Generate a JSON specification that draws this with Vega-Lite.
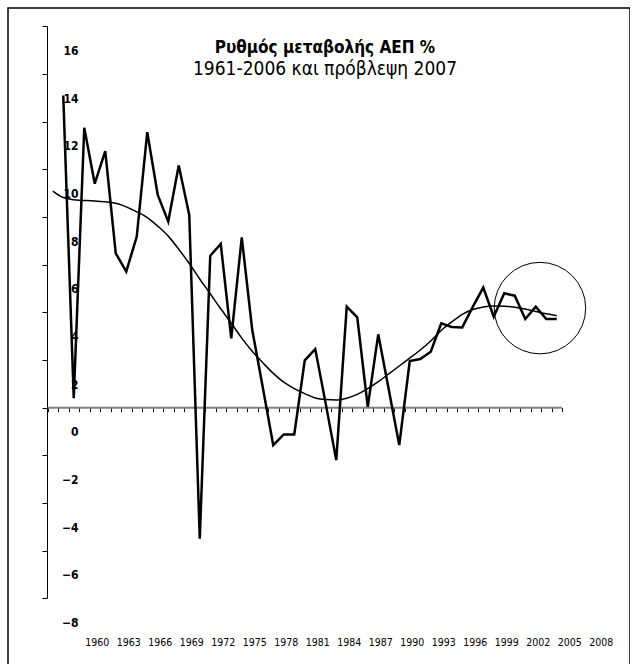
{
  "$schema": "https://vega.github.io/schema/vega-lite/v6.json",
  "width": 622,
  "height": 662,
  "autosize": {"type": "none"},
  "padding": {"left": 8, "top": 8, "right": 0, "bottom": 0},
  "background": "white",
  "config": {
    "view": {"stroke": "black", "strokeWidth": 1.5},
    "font": "Liberation Sans Narrow, DejaVu Sans Condensed, Liberation Sans, sans-serif",
    "axis": {"grid": false}
  },
  "title": {
    "text": "Ρυθμός μεταβολής ΑΕΠ %",
    "subtitle": "1961-2006 και πρόβλεψη 2007",
    "anchor": "middle",
    "offset": -72,
    "dx": 6,
    "font": "Liberation Sans Narrow, DejaVu Sans Condensed, Liberation Sans, sans-serif",
    "fontSize": 17,
    "fontWeight": "bold",
    "color": "black",
    "subtitleFont": "Liberation Sans Narrow, DejaVu Sans Condensed, Liberation Sans, sans-serif",
    "subtitleFontSize": 19,
    "subtitleColor": "black",
    "subtitlePadding": 3
  },
  "datasets": {
    "gdp": [
      {"year": 1960, "value": 13.1},
      {"year": 1961, "value": 0.4},
      {"year": 1962, "value": 11.75},
      {"year": 1963, "value": 9.4},
      {"year": 1964, "value": 10.77},
      {"year": 1965, "value": 6.48},
      {"year": 1966, "value": 5.71},
      {"year": 1967, "value": 7.18},
      {"year": 1968, "value": 11.56},
      {"year": 1969, "value": 8.93},
      {"year": 1970, "value": 7.81},
      {"year": 1971, "value": 10.16},
      {"year": 1972, "value": 8.09},
      {"year": 1973, "value": -5.5},
      {"year": 1974, "value": 6.38},
      {"year": 1975, "value": 6.87},
      {"year": 1976, "value": 2.91},
      {"year": 1977, "value": 7.15},
      {"year": 1978, "value": 3.26},
      {"year": 1979, "value": 0.86},
      {"year": 1980, "value": -1.57},
      {"year": 1981, "value": -1.12},
      {"year": 1982, "value": -1.12},
      {"year": 1983, "value": 1.99},
      {"year": 1984, "value": 2.46},
      {"year": 1985, "value": 0.16},
      {"year": 1986, "value": -2.2},
      {"year": 1987, "value": 4.24},
      {"year": 1988, "value": 3.79},
      {"year": 1989, "value": 0.04},
      {"year": 1990, "value": 3.08},
      {"year": 1991, "value": 0.76},
      {"year": 1992, "value": -1.57},
      {"year": 1993, "value": 1.96},
      {"year": 1994, "value": 2.04},
      {"year": 1995, "value": 2.35},
      {"year": 1996, "value": 3.54},
      {"year": 1997, "value": 3.39},
      {"year": 1998, "value": 3.37},
      {"year": 1999, "value": 4.23},
      {"year": 2000, "value": 5.04},
      {"year": 2001, "value": 3.82},
      {"year": 2002, "value": 4.8},
      {"year": 2003, "value": 4.7},
      {"year": 2004, "value": 3.72},
      {"year": 2005, "value": 4.24},
      {"year": 2006, "value": 3.72},
      {"year": 2007, "value": 3.72}
    ],
    "trend": [
      {"year": 1959, "value": 9.09},
      {"year": 1960, "value": 8.82},
      {"year": 1961, "value": 8.73},
      {"year": 1963, "value": 8.67},
      {"year": 1965, "value": 8.58},
      {"year": 1967, "value": 8.22},
      {"year": 1968, "value": 7.98},
      {"year": 1969, "value": 7.62},
      {"year": 1970, "value": 7.2},
      {"year": 1971, "value": 6.65},
      {"year": 1972, "value": 6.05},
      {"year": 1973, "value": 5.4},
      {"year": 1974, "value": 4.78},
      {"year": 1975, "value": 4.15},
      {"year": 1976, "value": 3.55},
      {"year": 1977, "value": 2.92},
      {"year": 1978, "value": 2.37},
      {"year": 1979, "value": 1.89},
      {"year": 1980, "value": 1.44},
      {"year": 1981, "value": 1.07},
      {"year": 1982, "value": 0.8},
      {"year": 1983, "value": 0.59},
      {"year": 1984, "value": 0.41},
      {"year": 1985, "value": 0.34},
      {"year": 1986, "value": 0.32},
      {"year": 1987, "value": 0.4},
      {"year": 1988, "value": 0.56},
      {"year": 1989, "value": 0.8},
      {"year": 1990, "value": 1.09},
      {"year": 1991, "value": 1.42},
      {"year": 1992, "value": 1.75},
      {"year": 1993, "value": 2.08},
      {"year": 1994, "value": 2.42},
      {"year": 1995, "value": 2.8},
      {"year": 1996, "value": 3.24},
      {"year": 1997, "value": 3.6},
      {"year": 1998, "value": 3.92},
      {"year": 1999, "value": 4.12},
      {"year": 2000, "value": 4.23},
      {"year": 2001, "value": 4.27},
      {"year": 2002, "value": 4.26},
      {"year": 2003, "value": 4.22},
      {"year": 2004, "value": 4.14},
      {"year": 2005, "value": 4.04},
      {"year": 2006, "value": 3.94},
      {"year": 2007, "value": 3.86}
    ]
  },
  "layer": [
    {
      "data": {"values": [{}]},
      "mark": {"type": "rule", "color": "black", "strokeWidth": 1},
      "encoding": {
        "x": {"datum": 1958.5, "type": "quantitative", "title": null, "scale": {"domain": [1954.738, 2013.976], "nice": false, "zero": false}, "axis": null},
        "y": {"datum": -8, "type": "quantitative", "title": null, "scale": {"domain": [-11.007, 16.773], "nice": false, "zero": false}},
        "y2": {"datum": 16}
      }
    },
    {
      "data": {"values": [{}]},
      "mark": {"type": "rule", "color": "#808080", "strokeWidth": 2},
      "encoding": {
        "x": {"datum": 1958.5, "type": "quantitative", "title": null, "scale": {"domain": [1954.738, 2013.976], "nice": false, "zero": false}, "axis": null},
        "x2": {"datum": 2007.5},
        "y": {"datum": 0, "type": "quantitative", "title": null, "scale": {"domain": [-11.007, 16.773], "nice": false, "zero": false}}
      }
    },
    {
      "data": {"name": "gdp"},
      "mark": {"type": "line", "color": "black", "strokeWidth": 2.5, "strokeJoin": "miter"},
      "encoding": {
        "x": {
          "field": "year", "type": "quantitative", "title": null,
          "scale": {"domain": [1954.738, 2013.976], "nice": false, "zero": false},
          "axis": {
            "orient": "bottom", "offset": -262.3,
            "values": [1958.5, 1959.5, 1960.5, 1961.5, 1962.5, 1963.5, 1964.5, 1965.5, 1966.5, 1967.5, 1968.5, 1969.5, 1970.5, 1971.5, 1972.5, 1973.5, 1974.5, 1975.5, 1976.5, 1977.5, 1978.5, 1979.5, 1980.5, 1981.5, 1982.5, 1983.5, 1984.5, 1985.5, 1986.5, 1987.5, 1988.5, 1989.5, 1990.5, 1991.5, 1992.5, 1993.5, 1994.5, 1995.5, 1996.5, 1997.5, 1998.5, 1999.5, 2000.5, 2001.5, 2002.5, 2003.5, 2004.5, 2005.5, 2006.5, 2007.5],
            "domain": false, "labels": false, "ticks": true, "tickSize": 4, "tickColor": "black", "tickWidth": 1, "grid": false, "title": null
          }
        },
        "y": {
          "field": "value", "type": "quantitative", "title": null,
          "scale": {"domain": [-11.007, 16.773], "nice": false, "zero": false},
          "axis": {
            "orient": "left", "offset": -39,
            "values": [-8, -6, -4, -2, 0, 2, 4, 6, 8, 10, 12, 14, 16],
            "domain": false, "tickSize": 5, "tickColor": "black", "tickWidth": 1,
            "labelAlign": "right", "labelBaseline": "middle", "labelPadding": -36, "labelOffset": 24,
            "labelFont": "Liberation Sans Narrow, DejaVu Sans Condensed, Liberation Sans, sans-serif", "labelFontWeight": "bold", "labelFontSize": 12, "labelColor": "black",
            "labelFlush": false, "labelOverlap": false, "format": "d", "grid": false, "title": null
          }
        }
      }
    },
    {
      "data": {"name": "trend"},
      "mark": {"type": "line", "color": "black", "strokeWidth": 1.5, "interpolate": "monotone"},
      "encoding": {
        "x": {
          "field": "year", "type": "quantitative", "title": null,
          "scale": {"domain": [1954.738, 2013.976], "nice": false, "zero": false},
          "axis": {
            "orient": "bottom", "offset": -34,
            "values": [1963, 1966, 1969, 1972, 1975, 1978, 1981, 1984, 1987, 1990, 1993, 1996, 1999, 2002, 2005, 2008, 2011],
            "labelExpr": "datum.value - 3",
            "domain": false, "ticks": false, "labelPadding": 1, "labelBaseline": "top", "labelOffset": 2,
            "labelFont": "Liberation Sans Narrow, DejaVu Sans Condensed, Liberation Sans, sans-serif", "labelFontSize": 10.5, "labelColor": "black",
            "labelFlush": false, "labelOverlap": false, "grid": false, "title": null
          }
        },
        "y": {"field": "value", "type": "quantitative", "title": null, "scale": {"domain": [-11.007, 16.773], "nice": false, "zero": false}}
      }
    },
    {
      "data": {"values": [{}]},
      "mark": {"type": "point", "shape": "circle", "filled": false, "color": "black", "strokeWidth": 1, "size": 8372, "opacity": 1},
      "encoding": {
        "x": {"datum": 2005.4, "type": "quantitative", "title": null, "scale": {"domain": [1954.738, 2013.976], "nice": false, "zero": false}, "axis": null},
        "y": {"datum": 4.18, "type": "quantitative", "title": null, "scale": {"domain": [-11.007, 16.773], "nice": false, "zero": false}}
      }
    }
  ],
  "resolve": {"axis": {"x": "independent"}}
}
